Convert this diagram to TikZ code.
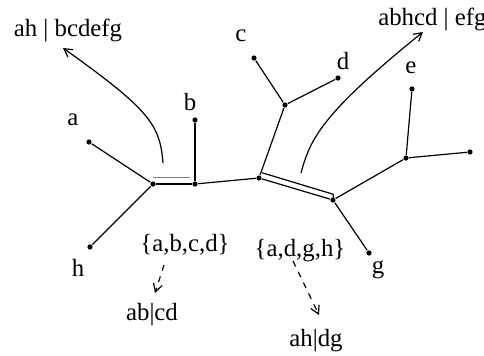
\documentclass[tikz,border=0pt]{standalone}
\usepackage{fontspec}
\setmainfont{Liberation Serif}
\usepackage{tikz}
\usetikzlibrary{arrows.meta}

\begin{document}
\begin{tikzpicture}[x=0.5pt, y=-0.5pt, line width=0.6pt, >={Straight Barb[length=4pt,width=4.5pt]},
	every node/.style={align=center, font=\fontsize{12.4}{14}\selectfont},
	dot/.style={circle, fill=black, inner sep=0pt, minimum size=2.6pt}]
				\useasboundingbox (0,0) rectangle (484,355);
				% inner vertices
				\node (left) at (153,184) [dot] {};
				\node (mid) at (195,184) [dot] {};
				\node (cross) at (259,178) [dot] {};
				\node (cdjoin) at (285,105) [dot] {};
				\node (right) at (333,200) [dot] {};
				\node (efjoin) at (406,158) [dot] {};
				% leaves
				\node (a) at (89,142) [dot] {};
				\node (b) at (195,120) [dot] {};
				\node (c) at (254,58) [dot] {};
				\node (d) at (338,78) [dot] {};
				\node (e) at (412,89) [dot] {};
				\node (f) at (470,152) [dot] {};
				\node (g) at (369,253) [dot] {};
				\node (h) at (90,247) [dot] {};
				\node (la) at (73,120) {a};
				\node (lb) at (190,102) {b};
				\node (lc) at (241,36) {c};
				\node (ld) at (343,61) {d};
				\node (le) at (411,68) {e};
				\node (lf) at (488,157) {f};
				\node (lg) at (378,270) {g};
				\node (lh) at (78,268) {h};
				% splits and quartets
				\node (split1) at (68,30) {ah | bcdefg};
				\node (split2) at (371,19) [anchor=west] {abhcd | efg};
				\node (quart1) at (185,245) {\{a,b,c,d\}};
				\node (res1) at (152,315) {ab|cd};
				\node (quart2) at (300,251) {\{a,d,g,h\}};
				\node (res2) at (316,341) {ah|dg};
				\coordinate (s1from) at (163,163);
				\coordinate (s1to) at (63,48);
				\coordinate (s2from) at (301,173);
				\coordinate (s2to) at (423,32);
				\coordinate (q1from) at (164,265);
				\coordinate (q1to) at (155,293);
				\coordinate (q2from) at (293,261);
				\coordinate (q2to) at (319,315);
				
				\draw (left) -- (a);
				\draw (left) -- (h);
				\draw (left) -- (mid);
				\draw (mid) -- (b);
				\draw (mid) -- (cross);
				\draw (cross) -- (cdjoin);
				\draw (cdjoin) -- (c);
				\draw (cdjoin) -- (d);
				\draw (cross) -- (right);
				\draw (right) -- (g);
				\draw (right) -- (efjoin);
				\draw (efjoin) -- (e);
				\draw (efjoin) -- (f);
				\draw[gray, line width=0.8pt] ([yshift=3.2pt]left.center) -- ([yshift=3.2pt,xshift=-2.3pt]mid.center);
				\draw ([shift={(1.6pt,2.6pt)}]cross.center) -- ([shift={(0pt,2.9pt)}]right.center) -- ([shift={(0.4pt,0.4pt)}]right.center);
				\draw[->] (s1from) .. controls (160,125) and (150,110) .. (s1to);
				\draw[->] (s2from) .. controls (310,140) and (320,115) .. (s2to);
				\draw[->, dashed] (q1from) -- (q1to);
				\draw[->, dashed] (q2from) -- (q2to);
			\end{tikzpicture}
\end{document}
